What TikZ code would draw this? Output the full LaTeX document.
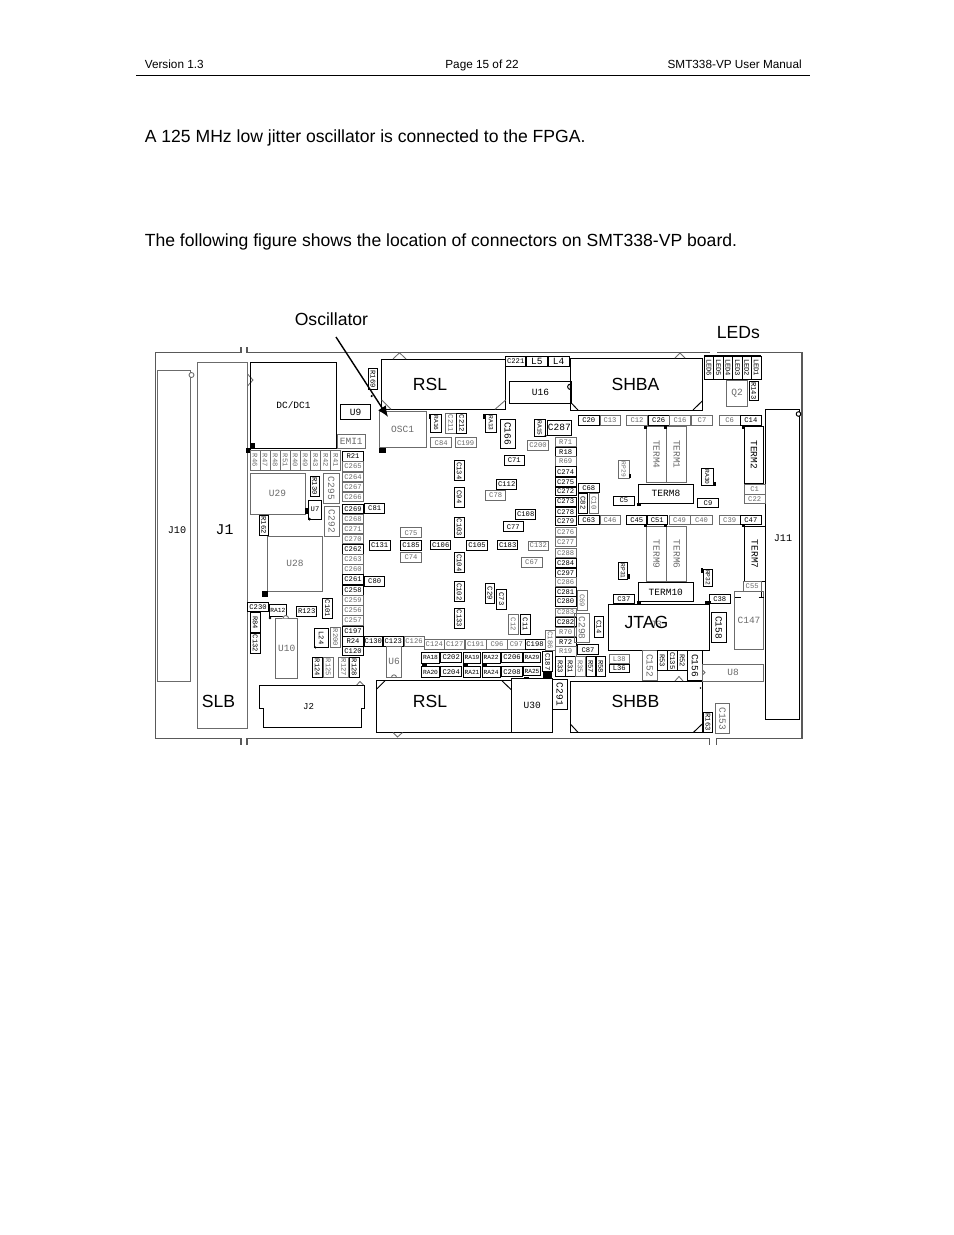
\documentclass[tikz,border=0pt]{standalone}
\usepackage{fontspec}
\setmainfont{Liberation Sans}
\setmonofont{Liberation Mono}
\usetikzlibrary{arrows.meta}
\newcounter{cbn}
\definecolor{brdgray}{gray}{0.35}
\definecolor{cgray}{gray}{0.42}
\tikzset{
  lb/.style={font=\fontsize{4.6}{5}\selectfont\ttfamily,inner sep=0pt},
  cb/.style={line width=0.6pt,color=black},
  cg/.style={line width=0.55pt,color=cgray},
  brd/.style={line width=0.65pt,color=brdgray},
  pad/.style={fill=black,draw=none},
  doc/.style={font=\fontsize{11.28}{13}\selectfont,inner sep=0pt,anchor=base west},
  hdr/.style={font=\fontsize{7.55}{10}\selectfont,inner sep=0pt,anchor=base},
  big/.style={font=\fontsize{11.28}{13}\selectfont,inner sep=0pt},
  mono/.style={font=\fontsize{6.5}{7}\selectfont\ttfamily,inner sep=0pt},
}
\newcommand\bigt{\fontsize{6.1}{7}\selectfont}
\newcommand\smt{\fontsize{4}{5}\selectfont}
\newcommand\hb[5]{\stepcounter{cbn}\draw[cb] (#1,#2) rectangle (#3,#4) node[midway,lb] (n\arabic{cbn}) {#5};}
\newcommand\hg[5]{\stepcounter{cbn}\draw[cg] (#1,#2) rectangle (#3,#4) node[midway,lb] (n\arabic{cbn}) {#5};}
\newcommand\vb[5]{\stepcounter{cbn}\draw[cb] (#1,#2) rectangle (#3,#4) node[midway,lb,rotate=-90] (n\arabic{cbn}) {#5};}
\newcommand\vg[5]{\stepcounter{cbn}\draw[cg] (#1,#2) rectangle (#3,#4) node[midway,lb,rotate=-90] (n\arabic{cbn}) {#5};}
\newcommand\pd[4]{\fill[pad] (#1,#2) rectangle (#3,#4);}
\begin{document}
\begin{tikzpicture}[x=0.6415pt,y=-0.6415pt]
\fill[white] (0,0) rectangle (954,1235);
\useasboundingbox (0,0) rectangle (954,1235);
% page text
\node[hdr,anchor=base west] (ver) at (144.5,68) {Version 1.3};
\node[hdr] (pg) at (482,68) {Page 15 of 22};
\node[hdr,anchor=base east] (man) at (802,68) {SMT338-VP User Manual};
\coordinate (ruleL) at (136,75.5); \coordinate (ruleR) at (810,75.5);
\draw[line width=0.7pt] (ruleL) -- (ruleR);
\node[doc] (l1) at (144.5,142) {A 125 MHz low jitter oscillator is connected to the FPGA.};
\node[doc] (l2) at (144.5,246) {The following figure shows the location of connectors on SMT338-VP board.};
\node[doc] (osc) at (294.5,325) {Oscillator};
\node[doc] (leds) at (716.5,338) {LEDs};
% board outline
\draw[brd] (241,347)--(241,352)--(155.5,352)--(155.5,738)--(241,738)--(241,745);
\draw[brd] (247,347)--(247,352)--(710,352);
\draw[brd] (717,352)--(802,352)--(802,738)--(716.5,738)--(716.5,745);
\draw[brd] (247,745)--(247,738)--(709.5,738)--(709.5,745);
% J10 J1
\hg{157.5}{370.5}{190.5}{681.5}{}
\filldraw[cg,fill=white] (191.5,375) circle (2.5);
\hg{197.5}{362.5}{247.5}{728}{}
\node[mono] (j10) at (177,530) {J10};
\node[font=\fontsize{9.5}{12}\selectfont\ttfamily,inner sep=0pt] (j1) at (224.5,530) {J1};
\node[big] (slb) at (218.5,701) {SLB};
\draw[cg] (247.5,374)--(253,380)--(247.5,386);
% DC/DC1 and left
\hb{250.5}{362.5}{336.5}{448.5}{\bigt DC/DC1}
\pd{250.5}{443}{255}{448} \pd{246}{448}{251}{453}
\hb{340.5}{404.5}{370.5}{419.5}{\bigt U9}
\hg{337.5}{434.5}{365}{448.5}{\bigt EMI1}
\vb{368.5}{368.5}{377.5}{389.5}{R169}
\fill (371.7,396) circle (1.2);
\vg{250}{450}{260}{470.5}{R46}\vg{260}{450}{270}{470.5}{R47}\vg{270}{450}{280.3}{470.5}{R48}
\vg{280.3}{450}{290.3}{470.5}{R51}\vg{290.3}{450}{300.3}{470.5}{R40}\vg{300.3}{450}{310.3}{470.5}{R49}
\vg{310.3}{450}{320.7}{470.5}{R43}\vg{320.7}{450}{330.7}{470.5}{R42}\vg{330.7}{450}{340.7}{470.5}{R41}
\hb{342.7}{451.7}{363.3}{461}{R21}
\hg{342.7}{461.5}{363.3}{471.3}{C265}\hg{342.7}{472}{363.3}{481.3}{C264}\hg{342.7}{482}{363.3}{491.3}{C267}\hg{342.7}{492}{363.3}{501.3}{C266}
\hb{342.7}{504.3}{363.3}{513.3}{C269}\hg{342.7}{514.3}{363.3}{523.3}{C268}\hg{342.7}{524.3}{363.3}{533.3}{C271}\hg{342.7}{534.3}{363.3}{543.5}{C270}
\hb{342.7}{544.3}{363.3}{554.3}{C262}\hg{342.7}{554.6}{363.3}{564}{C263}\hg{342.7}{564.3}{363.3}{574}{C260}\hb{342.7}{574.3}{363.3}{584}{C261}
\hb{342.7}{585.3}{363.3}{595}{C258}\hg{342.7}{595.7}{363.3}{605}{C259}\hg{342.7}{605.7}{363.3}{615}{C256}\hg{342.7}{615.3}{363.3}{625}{C257}
\hb{342.7}{626}{363.3}{636}{C197}\hb{342.7}{636.7}{363.3}{646}{R24}\hb{342.7}{646}{363.3}{655.3}{C120}
\hb{364.7}{503.3}{384.7}{513.3}{C81}
\hb{369}{540}{390.3}{550}{C131}
\hb{364.7}{576.3}{384.7}{586.3}{C80}
\hg{250}{473.3}{305}{514}{\bigt U29}
\vb{310.3}{476}{319.3}{496}{R130}
\vg{323.3}{473.3}{339}{503.3}{\bigt C295}
\vg{324.3}{506}{339}{536.7}{\bigt C292}
\hb{308.3}{500}{321.7}{519}{U7}
\pd{305}{507.7}{308.7}{514} \fill (309.5,519) circle (1.5);
\vb{259}{515}{268.3}{535}{R162}
\hg{267.3}{536}{322.7}{591}{\bigt U28}
\pd{262}{591}{267.7}{596.7}
\hb{247.7}{602.3}{268.3}{611.7}{C230}
\hb{269}{604.3}{286.7}{616}{\smt RA12} \fill (270,618) circle (1.3);
\hb{296.7}{606.7}{316.7}{616}{R123}
\vb{322.7}{598.7}{332.3}{618.3}{C101}
\vb{250.7}{612.7}{260}{632.7}{R84}
\vb{250.7}{633.3}{260}{653.3}{C132}
\hg{275.7}{618.3}{297.7}{678.3}{\bigt U10}
\fill[white] (282,618.3) arc (180:360:2.8) -- cycle;
\draw[cg] (283,618.3) arc (180:360:2.8);
\hb{314.3}{628.3}{328.3}{647.7}{} \node[lb,rotate=-90] (l24) at (321.3,638) {L24};
\fill (315.5,647.5) circle (1.2);
\vg{330.3}{627.3}{340.7}{647.3}{R200}
\vb{312.3}{657.3}{322.3}{677.3}{R124}\vg{323.3}{657.3}{333}{677.3}{R125}\vg{338.7}{657.3}{348.7}{677.3}{R127}\vb{349.3}{657.3}{359}{677.3}{R128}
% J2
\draw[cb] (259.5,685)--(364.5,685)--(364.5,708.5)--(361.7,708.5)--(361.7,727.5)--(263.3,727.5)--(263.3,708.5)--(259.5,708.5)--cycle;
\node[mono,font=\fontsize{5.8}{7}\selectfont\ttfamily] (j2) at (308.5,707) {J2};
\draw[cg] (356.7,685)--(360,681.5)--(363.5,685);
% RSL top
\hb{381.7}{359.5}{505.7}{409.3}{}
\node[big] (rsl1) at (430,384) {RSL};
\draw[cg] (393,359)--(399.5,352.7)--(406,359);
\draw[cg] (381.7,400)--(391,409.3) (495,409.3)--(505.7,400);
\hb{505.7}{356}{525.7}{366}{C221}\hb{526.3}{356}{547.3}{366}{\bigt L5}\hb{548}{356}{569.3}{366}{\bigt L4}
\hb{509.3}{381}{571.7}{403.7}{\bigt U16}
% SHBA
\hb{570.3}{358.5}{702.7}{410}{}
\node[big] (shba) at (635.5,384) {SHBA};
\draw[cg] (675,358)--(680,353)--(685,358);
\draw[cb] (570.3,402)--(578,410) (693,410)--(702.7,400.5);
\filldraw[cb,fill=white] (570.3,389.5) arc (90:270:2.7) -- cycle;
% centre top
\hg{379.3}{411}{426}{447.7}{\bigt OSC1}
\pd{379.3}{448.3}{386}{452.7}
\vb{430.7}{414}{441.7}{432.3}{\smt RA16} \pd{428.5}{414}{430.7}{419}
\vg{445.3}{413.3}{456}{433.3}{C211}\vb{456.7}{413.3}{466.7}{433.3}{C212}
\vb{485.7}{414}{496}{432.3}{\smt RA13} \pd{483.3}{414}{485.7}{419}
\vb{500.3}{419}{515.3}{448.3}{\bigt C166}
\vb{534.3}{419.3}{545}{436.7}{\smt RA15} \fill (545.7,435.7) circle (1.2);
\hb{547.3}{420.7}{571.3}{435}{\bigt C287}
\hg{430.7}{437.7}{451.7}{447.7}{C84}\hg{455.3}{437.7}{476}{447.7}{C199}
\hg{527.7}{440.3}{548.3}{450.3}{C200}
\hb{504.3}{455.7}{524.3}{465}{C71}
\hg{555.3}{437.7}{576}{446.7}{R71}\hb{555.3}{447.3}{576}{456}{R18}\hg{555.3}{456.7}{576}{466}{R69}\hb{555.3}{466.7}{576}{476.7}{C274}
\hb{555.3}{477.3}{576}{486}{C275}\hb{555.3}{487}{576}{495.7}{C272}\hb{555.3}{497}{576}{506}{C273}\hb{555.3}{507.7}{576}{516}{C278}
\hb{555.3}{516.7}{576}{525.7}{C279}\hg{555.3}{527.7}{576}{536.7}{C276}\hg{555.3}{537.3}{576}{546.7}{C277}
\hg{555.3}{548}{576}{557.3}{C288}\hb{555.3}{558.3}{576}{567.7}{C284}\hb{555.3}{568.3}{576}{577}{C297}\hg{555.3}{577.7}{576}{586.7}{C286}
\hb{555.3}{587}{576}{596.3}{C281}\hb{555.3}{596.3}{576}{606}{C280}\hg{555.3}{608}{576}{616.7}{C283}\hb{555.3}{617.3}{576}{626.7}{C282}
\hg{555.3}{627.3}{576}{636}{R70}\hb{555.3}{637.3}{576}{646}{R72}\hg{555.3}{646.7}{576}{656}{R19}
\vb{454.3}{460.7}{464.3}{480.7}{C134}\vb{454.3}{487}{464.3}{507}{C94}\vb{454.3}{517.3}{464.3}{537.3}{C103}
\hb{496.7}{479.3}{516.7}{489.3}{C112}\hg{485.7}{490.3}{505.7}{500.3}{C78}
\hb{515.7}{509.3}{535.7}{519.3}{C108}\hb{503.3}{521.7}{523.3}{531.7}{C77}
\hg{400.7}{527.7}{421.3}{537.7}{C75}\hb{400.7}{540}{421.3}{550}{C185}\hb{430.7}{540}{450.7}{549.3}{C106}
\hb{466.7}{540}{487.3}{550}{C105}\hb{497.7}{540}{517.7}{549.3}{C183}\hg{528.3}{541}{548.3}{550}{C132}
\hg{400.7}{552.7}{421.3}{562}{C74}
\vb{454.3}{552.7}{464.3}{572.7}{C104}\hg{521.3}{557.7}{542}{567}{C67}
\vb{454.3}{581.7}{464.3}{601.7}{C102}\vb{454.3}{608.3}{464.3}{628.3}{C133}
\vb{485.3}{583.3}{494.7}{603.3}{C29}\vb{496.3}{589}{506.7}{609}{C73}
\vg{508.3}{614.3}{518.3}{634.3}{C12}\vb{520.3}{614.3}{530.3}{634.3}{C11}
% bottom centre
\hb{364}{636}{382.7}{646}{C130}\hb{383.3}{636}{403.3}{646}{C123}\hg{404}{636}{424}{646}{C126}
\hg{424.3}{639.3}{444.3}{649.3}{C124}\hg{444.7}{639.3}{464.7}{649.3}{C127}\hg{465.3}{639.3}{486}{649.3}{C191}
\hg{486.7}{639.3}{507.3}{649.3}{C96}\hg{507.7}{639.3}{525}{649.3}{C97}\hb{525}{639.3}{545}{649.3}{C198}
\vg{545.3}{630}{555.3}{650}{C186}\vb{542.7}{651.7}{552.7}{671.7}{C187}
\pd{543}{672}{552}{678.7}
\hg{386.3}{646}{401.7}{677.3}{\bigt U6}
\draw[cg] (391.5,677.3) arc (180:360:2.5);
\hb{421.7}{652.3}{439.3}{663.3}{\smt RA18}\hb{440.7}{652.3}{461.7}{662.3}{C202}\hb{463.3}{652.3}{480.7}{663.3}{\smt RA19}
\hb{482.3}{652.3}{500}{663.3}{\smt RA22}\hb{501.7}{652.3}{522.3}{662.3}{C206}\hb{523.7}{652.3}{540.3}{662.6}{\smt RA29}
\hb{421.7}{666.7}{439.3}{677.3}{\smt RA20}\hb{440.7}{666.7}{461.7}{676.7}{C204}\hb{463.3}{666.7}{480.7}{677.3}{\smt RA21}
\hb{482.3}{666.7}{500}{677.3}{\smt RA24}\hb{501.7}{666.7}{522.3}{676.7}{C208}\hb{523.7}{666.7}{540.3}{675.7}{\smt RA25}
\pd{421.7}{664}{426.7}{666} \pd{463.3}{664}{468.3}{666} \pd{482.3}{664}{487.3}{666} \pd{523.7}{677}{528.7}{679}
\hb{376.7}{680.3}{511}{732.3}{}
\node[big] (rsl2) at (430,701) {RSL};
\draw[cb] (376.7,689)--(385.5,680.3) (501.5,680.3)--(511,689.5);
\draw[cg] (393,732.5)--(397.5,737)--(402.5,732.5);
\hb{511.7}{678.7}{552.7}{732.3}{\bigt U30}
\vb{552.7}{679.3}{567}{709.3}{\bigt C291}
% SHBB
\hb{570.3}{681.3}{702.7}{732.3}{}
\node[big] (shbb) at (635.5,701) {SHBB};
\draw[cg] (675,681)--(679,676.5)--(683,681);
\draw[cb] (570.3,724)--(578,732.3) (693.5,732.3)--(702.7,723.5);
\fill (700.5,688) circle (0.9);
% middle column
\vb{555.3}{656.7}{565}{676.7}{R33}\vb{565.3}{656.7}{575}{676.7}{R31}\vg{575.3}{656.7}{585.3}{676.7}{R35}\vb{586}{656.7}{595.3}{676.7}{R57}\vb{596}{656.7}{605.3}{676.7}{R58}
\vg{577.3}{590.7}{587.3}{610.7}{C69}\vg{574.7}{613.3}{589.3}{642.7}{\bigt C298}\vb{594.3}{616.7}{603.7}{637.3}{C14}
\hb{577.3}{644.7}{598.7}{654.7}{C87}
\hg{609.3}{654.7}{629.3}{663.3}{L38}\hb{609.3}{664}{629.3}{672.7}{L36}
\vb{618.3}{562.7}{627.7}{579.3}{\smt RP31} \pd{627.7}{574}{630}{579.3}
\vb{703.3}{569.3}{712.3}{586}{\smt RP32} \pd{700.7}{568.3}{702.7}{573.3}
\vg{646.3}{526.7}{666.7}{581.7}{\bigt TERM9}\vg{666.7}{526.7}{686.7}{581.7}{\bigt TERM6}
\vb{744.3}{526.7}{765}{581.7}{\bigt TERM7}
\hg{743.3}{581.7}{761}{591}{C55}
\hg{734.3}{591.7}{763.7}{649}{\bigt C147}
\draw[cb] (735,597.3)--(741,597.3) (758.5,597.3)--(763.5,597.3) (761,591.7)--(761,597.3);
\hb{638.3}{582.3}{693.3}{601.7}{\bigt TERM10}
\hb{613.7}{594}{634}{603.3}{C37}\hb{709.3}{594}{730.3}{603.3}{C38}
\pd{705}{601}{711}{604.3} \pd{637.3}{601.3}{640.7}{604.3}
\hb{608.3}{604.3}{709.7}{650.3}{}
\node[font=\bigt\ttfamily,inner sep=0pt,color=cgray] (j3) at (656,624) {J3};
\node[big] (jtag) at (646.5,622) {JTAG};
\vb{711.3}{612.7}{726}{642.3}{\bigt C158}
\vg{642.7}{650.3}{657}{680.7}{\bigt C152}
\vb{657.3}{650.7}{667}{670.7}{R53}\vb{667.7}{650.7}{677.3}{670.7}{C135}\vb{677.7}{650.7}{687}{670.7}{R52}
\vb{687.7}{650.3}{702.3}{680.7}{\bigt C156}
\hg{702.3}{664.3}{763.7}{681.3}{\bigt U8}
\draw[cg] (702.5,670)--(705,672.5)--(702.5,675);
\vg{715.3}{703.7}{729.7}{733.7}{\bigt C153}
\vb{703.3}{712}{712.7}{732}{R163}
% J11
\hb{765.3}{409.3}{799.7}{719.3}{}
\node[mono] (j11) at (783,538) {J11};
\filldraw[cb,fill=white] (798.5,414) circle (2.3);
% LEDs
\draw[line width=1pt] (704.3,356)--(761,356);
\vb{704.3}{356}{713.8}{379.3}{LED6}\vb{713.8}{356}{723.2}{379.3}{LED5}\vb{723.2}{356}{732.7}{379.3}{LED4}
\vb{732.7}{356}{742.1}{379.3}{LED3}\vb{742.1}{356}{751.6}{379.3}{LED2}\vb{751.6}{356}{761}{379.3}{LED1}
\hg{726.7}{380}{747.7}{406}{\bigt Q2}
\vb{749.3}{381}{758.3}{400.7}{R143}
% right upper rows
\hb{578.3}{415.3}{599.3}{425.3}{C20}\hg{600}{415.3}{620}{425.3}{C13}\hg{626.7}{415.3}{647.3}{425.3}{C12}
\hb{648.3}{415.3}{669}{425.3}{C26}\hg{669.3}{415.3}{690.7}{425.3}{C16}\hg{691.7}{415.3}{712.3}{425.3}{C7}
\hg{719.3}{415.3}{740}{425.3}{C6}\hb{740.7}{415.3}{761}{425.3}{C14}
\vg{646.3}{426}{666.7}{482.7}{\bigt TERM4}\vg{666.7}{426}{686.7}{482.7}{\bigt TERM1}
\pd{644}{426}{646.5}{429.3} \pd{664}{426}{666.7}{429.3} \pd{742}{426}{744.5}{429.3}
\vb{744.3}{426}{763.7}{483.3}{\bigt TERM2}
\hg{744.3}{484}{765}{494}{C1}\hg{744.3}{494.7}{765}{503.7}{C22}
\hb{638.3}{484.3}{693.7}{503.3}{\bigt TERM8}
\pd{637.3}{503.3}{640.7}{505.7}
\hb{613.7}{496}{634}{505}{C5}\hb{697.7}{498.3}{718.3}{507.7}{C9}
\vg{618.3}{460.7}{629}{478}{\smt RP29} \pd{629}{474}{631.3}{478}
\vb{701.3}{468.3}{713.3}{485.7}{\smt RA30} \pd{713.3}{481.5}{715.5}{485.7}
\hb{578.3}{483.3}{599.3}{492.7}{C68}\vb{578.3}{493}{587.7}{513}{C82}\vg{589.3}{493}{598.7}{513}{C10}
\hb{578.3}{515}{599.3}{524.3}{C63}\hg{600}{515}{620}{524.3}{C46}
\hb{626.7}{515}{646.7}{524.3}{C45}\hb{647.3}{515}{667.3}{524.3}{C51}\hg{669}{515}{690}{524.3}{C49}\hg{690.7}{515}{712.3}{524.3}{C40}
\hg{719.3}{515}{740}{524.3}{C39}\hb{740.7}{515}{761}{524.3}{C47}
\pd{644}{524.3}{646.5}{527} \pd{664}{524.3}{666.7}{527} \pd{742}{524.3}{744.5}{527}
% arrow
\coordinate (arrS) at (336,337); \coordinate (arrT) at (388,417);
\draw[line width=0.9pt,-{Latex[length=7pt,width=6pt]}] (arrS) -- (arrT);
\end{tikzpicture}
\end{document}
